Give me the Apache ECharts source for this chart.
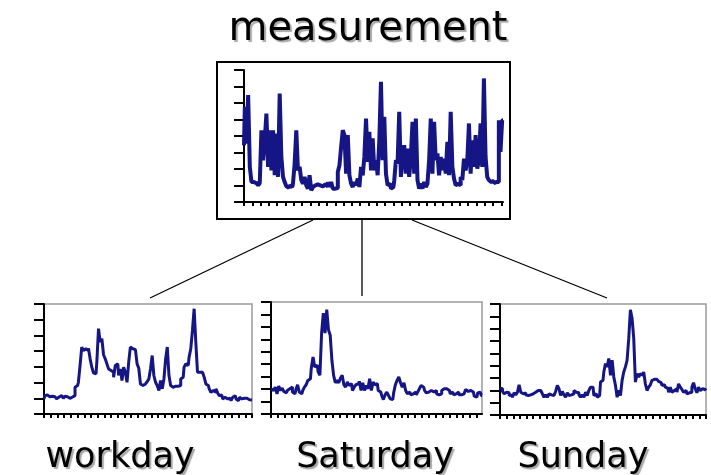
<!DOCTYPE html>
<html>
<head>
<meta charset="utf-8">
<title>measurement</title>
<script src="https://cdn.jsdelivr.net/npm/echarts@6/dist/echarts.min.js"></script>
<style>
  html, body { margin: 0; padding: 0; background: #fff; }
  #chart { width: 711px; height: 475px; }
</style>
</head>
<body>
<div id="chart"></div>
<script>
// measurement (whole period)
var measureData = [3.44, 5.77, 3.54, 6.48, 2.13, 1.21, 1.21, 1.15, 1.11, 1.01, 1.15, 4.35, 2.53, 3.74, 5.36, 2.13,
  4.35, 1.92, 4.35, 1.62, 4.15, 1.52, 6.58, 2.73, 1.52, 1.21, 0.95, 0.87, 1.01, 0.91, 1.11, 2.33,
  4.35, 1.92, 2.13, 1.32, 1.11, 1.52, 1.01, 0.81, 1.62, 0.71, 0.91, 1.01, 1.07, 1.11, 1.01, 0.95,
  1.01, 1.07, 0.95, 1.21, 0.91, 1.21, 0.81, 0.81, 0.85, 1.82, 2.23, 3.34, 4.35, 4.05, 1.72, 4.05,
  1.62, 1.11, 0.91, 1.21, 1.01, 1.42, 0.91, 2.13, 1.62, 2.73, 5.06, 2.43, 4.25, 1.92, 3.85, 1.92,
  2.53, 1.62, 3.74, 7.29, 2.53, 5.16, 1.72, 1.01, 1.11, 0.81, 0.91, 1.32, 2.53, 2.33, 5.47, 1.52,
  2.73, 3.44, 1.72, 3.24, 1.52, 2.73, 4.86, 1.72, 5.06, 1.32, 0.81, 1.11, 0.81, 1.21, 0.91, 1.11,
  2.53, 5.06, 1.72, 4.86, 2.53, 2.94, 1.62, 2.73, 1.92, 2.63, 1.72, 3.64, 1.62, 5.47, 2.13, 1.42,
  1.01, 1.11, 1.01, 1.52, 1.32, 2.63, 1.92, 2.53, 4.76, 1.72, 3.74, 2.13, 4.05, 2.02, 2.53, 4.76,
  2.13, 7.49, 2.73, 1.52, 1.32, 1.21, 1.28, 1.15, 1.21, 1.21, 4.96, 3.04, 4.96];

var workdayData = [0.96, 1.17, 1.21, 1.1, 1.06, 1.13, 1.1, 1.02, 0.96, 1.08, 1.17, 1.06, 1.0, 1.13, 1.1, 1.0,
  0.96, 1.08, 1.17, 1.7, 1.81, 2.02, 3.09, 4.26, 4.04, 4.15, 4.04, 4.19, 3.51, 2.98, 2.62, 2.55,
  3.3, 5.43, 4.57, 4.79, 3.77, 3.51, 3.19, 2.87, 2.77, 2.66, 2.34, 3.09, 3.19, 2.45, 2.87, 2.13,
  2.98, 2.66, 2.02, 3.3, 4.26, 4.15, 4.1, 3.98, 3.19, 2.91, 1.91, 1.81, 1.91, 1.98, 2.06, 2.23,
  2.87, 3.72, 2.45, 2.02, 1.81, 1.49, 2.13, 1.6, 2.23, 3.51, 4.26, 2.45, 1.81, 1.7, 1.77, 1.7,
  1.77, 1.81, 2.23, 2.34, 2.98, 3.19, 3.09, 3.62, 4.15, 5.32, 6.7, 4.57, 2.66, 2.66, 2.66, 2.7,
  2.34, 1.91, 1.81, 1.6, 1.38, 1.49, 1.38, 1.6, 1.34, 1.17, 1.21, 0.96, 1.06, 0.96, 0.91, 1.0,
  0.85, 1.06, 1.17, 0.96, 0.85, 1.06, 0.96, 1.0, 1.04, 1.0, 0.91, 0.91, 0.89];

var saturdayData = [2.03, 1.89, 1.76, 2.16, 1.62, 2.24, 1.89, 2.08, 1.81, 1.7, 1.89, 2.03, 2.16, 1.76, 1.62, 1.97,
  2.35, 1.76, 1.62, 1.89, 2.16, 2.35, 2.7, 2.84, 3.7, 4.59, 3.78, 3.92, 3.38, 3.11, 6.49, 8.11,
  6.49, 8.38, 6.76, 6.35, 4.32, 3.11, 2.51, 2.7, 2.51, 2.89, 3.11, 2.35, 2.16, 2.57, 2.3, 2.43,
  1.89, 2.16, 2.35, 2.43, 2.62, 1.89, 2.51, 1.89, 2.3, 2.03, 2.84, 1.89, 2.57, 2.35, 2.43, 1.89,
  1.76, 1.49, 1.16, 1.54, 1.76, 1.49, 1.22, 1.16, 1.7, 2.35, 2.7, 2.97, 2.51, 2.16, 2.51, 1.89,
  1.62, 1.76, 1.54, 1.62, 1.76, 1.54, 1.76, 2.03, 2.3, 2.16, 1.89, 1.7, 1.76, 1.89, 1.76, 1.76,
  1.89, 1.62, 1.54, 1.62, 1.89, 2.03, 2.03, 1.97, 1.89, 1.62, 1.76, 1.54, 1.62, 1.76, 1.54, 1.54,
  1.62, 1.59, 1.97, 1.81, 1.89, 1.76, 1.76, 1.43, 1.35, 1.7, 1.76, 1.49];

var sundayData = [2.18, 2.13, 1.91, 1.72, 1.85, 1.8, 1.58, 1.63, 1.44, 1.8, 1.63, 1.85, 2.45, 1.85, 1.72, 1.8,
  1.63, 1.58, 1.63, 1.58, 1.72, 1.85, 1.91, 1.99, 1.99, 1.85, 1.72, 1.44, 1.63, 1.44, 1.72, 1.63,
  1.58, 1.63, 1.91, 2.4, 2.13, 1.58, 1.91, 1.63, 1.44, 1.8, 1.58, 1.63, 1.72, 1.99, 1.85, 1.8,
  1.63, 1.44, 1.63, 1.44, 1.85, 1.58, 1.99, 2.26, 2.26, 1.58, 1.72, 1.44, 1.58, 2.67, 2.81, 3.49,
  4.17, 3.9, 4.58, 3.22, 4.44, 3.08, 2.4, 1.44, 1.99, 1.58, 2.81, 3.49, 3.9, 4.44, 6.21, 8.53,
  7.85, 6.21, 2.67, 3.35, 3.08, 3.35, 3.22, 3.49, 2.53, 1.99, 2.26, 2.45, 2.81, 2.89, 2.89, 2.81,
  2.72, 2.62, 2.4, 2.45, 2.26, 2.18, 1.85, 2.26, 1.85, 1.99, 2.13, 1.85, 2.53, 2.26, 2.07, 1.85,
  1.99, 1.72, 1.8, 1.85, 2.26, 2.62, 2.13, 1.8, 2.26, 1.99, 2.13, 2.07, 1.99];

var titleText = 'measurement';
var panelNames = ['workday', 'Saturday', 'Sunday'];
var yMax = [8, 7, 9, 9];

var lineColor = '#151585';

function idx(arr) {
  return arr.map(function (v, i) { return i; });
}

function xAx(gi, arr, every) {
  return {
    type: 'category', gridIndex: gi, boundaryGap: false, data: idx(arr),
    axisLine: { lineStyle: { color: '#000', width: 2 } },
    axisTick: { show: true, interval: every, length: 4, lineStyle: { color: '#000', width: 2 } },
    axisLabel: { show: false },
    splitLine: { show: false }
  };
}

function yAx(gi, max) {
  return {
    type: 'value', gridIndex: gi, min: 0, max: max, interval: 1,
    axisLine: { show: true, lineStyle: { color: '#000', width: 2 } },
    axisTick: { show: true, inside: false, length: 10, lineStyle: { color: '#000', width: 2 } },
    axisLabel: { show: false },
    splitLine: { show: false }
  };
}

function line(gi, arr, w) {
  return {
    type: 'line', xAxisIndex: gi, yAxisIndex: gi, data: arr, symbol: 'none', step: 'middle',
    lineStyle: { color: lineColor, width: w }, animation: false, silent: true
  };
}

function label(text, x, y, size) {
  return {
    type: 'text', x: x, y: y, z: 10,
    style: {
      text: text,
      fill: '#000',
      fontSize: size,
      fontFamily: 'DejaVu Sans',
      align: 'center',
      verticalAlign: 'middle',
      textShadowColor: '#a8a8a8',
      textShadowOffsetX: 2,
      textShadowOffsetY: 2,
      textShadowBlur: 1
    }
  };
}

var option = {
  backgroundColor: '#fff',
  animation: false,
  grid: [
    { left: 244, top: 70, right: 208, bottom: 273 },
    { left: 44, top: 304, right: 459, bottom: 61, show: true, borderColor: '#9a9a9a', borderWidth: 1.5 },
    { left: 271, top: 302, right: 229, bottom: 61, show: true, borderColor: '#9a9a9a', borderWidth: 1.5 },
    { left: 500, top: 304, right: 5, bottom: 60, show: true, borderColor: '#9a9a9a', borderWidth: 1.5 }
  ],
  xAxis: [
    xAx(0, measureData, 4),
    xAx(1, workdayData, 3),
    xAx(2, saturdayData, 3),
    xAx(3, sundayData, 3)
  ],
  yAxis: [yAx(0, yMax[0]), yAx(1, yMax[1]), yAx(2, yMax[2]), yAx(3, yMax[3])],
  series: [
    line(0, measureData, 4),
    line(1, workdayData, 3),
    line(2, saturdayData, 3),
    line(3, sundayData, 3)
  ],
  graphic: [
    { type: 'rect', shape: { x: 217, y: 62, width: 293, height: 157 },
      style: { fill: 'none', stroke: '#000', lineWidth: 2 } },
    { type: 'line', shape: { x1: 313, y1: 220, x2: 150, y2: 298 }, style: { stroke: '#000', lineWidth: 1.3 } },
    { type: 'line', shape: { x1: 362, y1: 220, x2: 362, y2: 296 }, style: { stroke: '#000', lineWidth: 1.3 } },
    { type: 'line', shape: { x1: 412, y1: 220, x2: 607, y2: 298 }, style: { stroke: '#000', lineWidth: 1.3 } },
    label(titleText, 368, 30, 40),
    label(panelNames[0], 120, 458, 35),
    label(panelNames[1], 375, 458, 35),
    label(panelNames[2], 583, 458, 35)
  ]
};

var myChart = echarts.init(document.getElementById('chart'), null, { renderer: 'canvas' });
myChart.setOption(option);
window.onresize = myChart.resize;
</script>
</body>
</html>
